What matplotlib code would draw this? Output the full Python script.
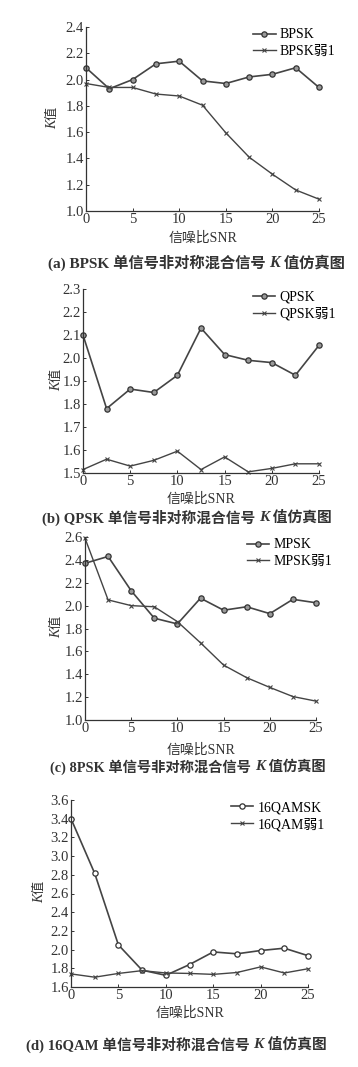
import matplotlib
matplotlib.use('Agg')
import matplotlib.pyplot as plt

plt.rcParams['font.family'] = ['Liberation Serif', 'Noto Sans CJK SC']

#—————————— data

snr = [0, 2.5, 5, 7.5, 10, 12.5, 15, 17.5, 20, 22.5, 25]

bpsk = [2.09, 1.93, 2.00, 2.12, 2.14, 1.99, 1.97, 2.02, 2.04, 2.09, 1.94]
bpsk_weak = [1.97, 1.94, 1.94, 1.89, 1.875, 1.805, 1.595, 1.41, 1.28, 1.16, 1.09]

qpsk = [2.10, 1.78, 1.865, 1.85, 1.925, 2.13, 2.015, 1.99, 1.98, 1.925, 2.055]
qpsk_weak = [1.515, 1.56, 1.53, 1.555, 1.595, 1.515, 1.57, 1.505, 1.52, 1.54, 1.54]

mpsk = [2.37, 2.43, 2.13, 1.89, 1.84, 2.065, 1.96, 1.99, 1.93, 2.055, 2.025]
mpsk_weak = [2.59, 2.05, 2.00, 1.99, 1.86, 1.675, 1.48, 1.37, 1.285, 1.205, 1.165]

qam = [3.40, 2.815, 2.05, 1.78, 1.725, 1.84, 1.975, 1.955, 1.99, 2.015, 1.935]
qam_weak = [1.74, 1.705, 1.745, 1.775, 1.75, 1.745, 1.735, 1.755, 1.815, 1.75, 1.795]

labels = [('BPSK', 'BPSK弱1'), ('QPSK', 'QPSK弱1'), ('MPSK', 'MPSK弱1'), ('16QAMSK', '16QAM弱1')]
cap_left = ['(a) BPSK 单信号非对称混合信号 ', '(b) QPSK 单信号非对称混合信号 ',
            '(c) 8PSK 单信号非对称混合信号 ', '(d) 16QAM 单信号非对称混合信号 ']
cap_right = ' 值仿真图'
ylims = [(1.0, 2.4), (1.5, 2.3), (1.0, 2.6), (1.6, 3.6)]
yticks = [[1.0, 1.2, 1.4, 1.6, 1.8, 2.0, 2.2, 2.4],
          [1.5, 1.6, 1.7, 1.8, 1.9, 2.0, 2.1, 2.2, 2.3],
          [1.0, 1.2, 1.4, 1.6, 1.8, 2.0, 2.2, 2.4, 2.6],
          [1.6, 1.8, 2.0, 2.2, 2.4, 2.6, 2.8, 3.0, 3.2, 3.4, 3.6]]
series = [(bpsk, bpsk_weak), (qpsk, qpsk_weak), (mpsk, mpsk_weak), (qam, qam_weak)]

#—————————— layout in pixels: left, right, top, bottom, xlabel y, caption y, caption centre x, ylabel x
W, H = 358, 1067
boxes = [(86, 319, 27, 211, 238, 263, 196, 53),
         (83, 319, 289, 473, 499, 518, 187, 57),
         (85, 316, 537, 720, 750, 767, 188, 57),
         (71, 308, 800, 987, 1013, 1045, 176, 40)]
cap_size = [11, 10.6, 10.3, 10.6]
fills = ['#999999', '#999999', '#999999', 'white']
ink = '#333333'

fig = plt.figure(figsize=(W/100, H/100), dpi=100)
renderer = fig.canvas.get_renderer()

def fx(px):
    return px/W

def fy(py):
    return 1-py/H

for i in range(4):
    l, r, t, b, xl, cy, cx, yx = boxes[i]
    ax = fig.add_axes([fx(l), fy(b), (r-l)/W, (b-t)/H])
    main, weak = series[i]
    ax.plot(snr, main, color='#444444', lw=1.2, marker='o', ms=3.8,
            mfc=fills[i], mec=ink, mew=0.9, label=labels[i][0], clip_on=False)
    ax.plot(snr, weak, color='#444444', lw=1.0, marker='x', ms=2.5,
            mew=0.8, label=labels[i][1], clip_on=False)
    ax.set_xlim(0, 25)
    ax.set_ylim(*ylims[i])
    ax.set_xticks([0, 5, 10, 15, 20, 25])
    ax.set_yticks(yticks[i])
    ax.set_yticklabels(['%.1f' % v for v in yticks[i]])
    ax.spines['top'].set_visible(False)
    ax.spines['right'].set_visible(False)
    for s in ('left', 'bottom'):
        ax.spines[s].set_color(ink)
        ax.spines[s].set_linewidth(0.9)
    ax.tick_params(direction='in', length=2.5, width=0.7, labelsize=10.5, pad=1.5, colors=ink)

    # y label "K值" with italic K
    yc = (t+b)/2
    fig.text(fx(yx), fy(yc+5), 'K', rotation=90, ha='center', va='center',
             fontsize=10, fontstyle='italic', color=ink)
    fig.text(fx(yx), fy(yc-6), '值', rotation=90, ha='center', va='center',
             fontsize=9.5, color=ink)

    fig.text(fx((l+r)/2), fy(xl), '信噪比SNR', ha='center', va='center', fontsize=10, color=ink)

    # caption in three pieces (italic K), centred as a whole
    parts = [fig.text(0, fy(cy), cap_left[i], ha='left', va='center', fontsize=cap_size[i],
                      fontweight='bold', color=ink),
             fig.text(0, fy(cy), 'K', ha='left', va='center', fontsize=cap_size[i]+0.5,
                      fontweight='bold', fontstyle='italic', color=ink),
             fig.text(0, fy(cy), cap_right, ha='left', va='center', fontsize=cap_size[i],
                      fontweight='bold', color=ink)]
    widths = [p.get_window_extent(renderer).width for p in parts]
    x0 = cx - sum(widths)/2
    for p, w in zip(parts, widths):
        p.set_x(fx(x0))
        x0 += w

    ax.legend(loc='upper right', frameon=False, fontsize=10, handlelength=1.6,
              handletextpad=0.3, labelspacing=0.25, borderaxespad=0.1,
              bbox_to_anchor=(1.1, 1.03))

plt.savefig('out.png', dpi=100)
